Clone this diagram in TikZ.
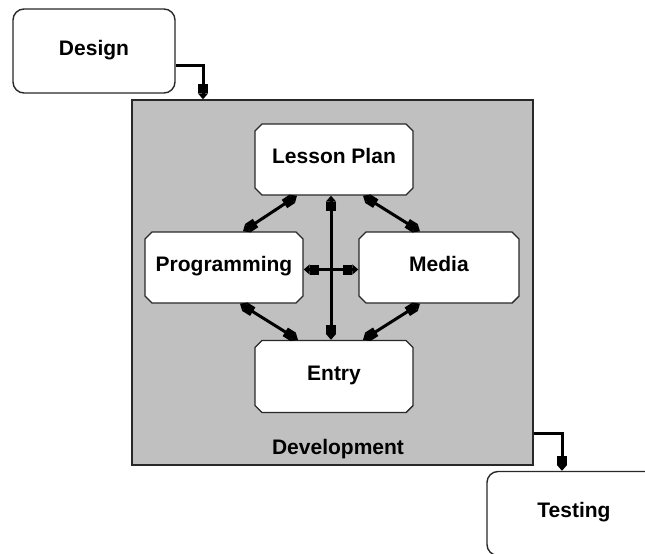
\documentclass[tikz,border=0pt]{standalone}
\usepackage{fontspec}
\setmainfont{Liberation Sans}
\usetikzlibrary{arrows.meta,shapes.misc}
\definecolor{devgray}{RGB}{192,192,192}
\definecolor{edge}{RGB}{40,40,40}
\tikzset{
  lbl/.style={font=\bfseries\fontsize{21}{24}\selectfont, text height=15pt, text depth=7pt, inner sep=0pt},
  roundbox/.style={lbl, draw=edge, line width=1.4pt, fill=white, rounded corners=11pt, minimum width=#1, minimum height=84pt},
  chambox/.style={lbl, chamfered rectangle, chamfered rectangle xsep=3.5pt, chamfered rectangle ysep=3.5pt, draw=edge, line width=1.4pt, fill=white, minimum width=#1, minimum height=71pt},
  devbox/.style={draw=edge, line width=1.4pt, fill=devgray, minimum width=401pt, minimum height=365pt, inner sep=0pt},
  mytip/.tip={Rectangle[length=9pt,width=10pt]Triangle[length=6pt,width=10pt]},
  conn/.style={line width=3pt, -{mytip}},
  link/.style={line width=3pt, {mytip}-{mytip}}
}
\begin{document}
\begin{tikzpicture}[x=1pt,y=-1pt]
\path[clip] (0,0) rectangle (645,554);
\fill[white] (0,0) rectangle (645,554);

\node[devbox] (dev) at (332.5,282.5) {};
\node[roundbox=162pt] (design) at (94,51) {Design};
\node[roundbox=174pt] (testing) at (574,513.5) {Testing};

\node[chambox=158pt] (lesson) at (334,159.5) {Lesson Plan};
\node[chambox=158pt] (prog) at (224,267.5) {Programming};
\node[chambox=160pt] (media) at (439,267.5) {Media};
\node[chambox=158pt, minimum height=72pt] (entry) at (334,376.5) {Entry};
\node[lbl] (devlabel) at (338,450) {Development};

\draw[conn] ([yshift=-14pt]design.east) -| ([xshift=-129.5pt]dev.north);
\draw[conn] ([yshift=-151pt]dev.east) -| ([xshift=-12pt]testing.north);

\draw[link] ([xshift=-37pt]lesson.south) -- ([xshift=19pt]prog.north);
\draw[link] ([xshift=29pt]lesson.south) -- ([xshift=-19pt]media.north);
\draw[link] ([xshift=-3pt]lesson.south) -- ([xshift=-3pt]entry.north);
\draw[link] ([yshift=-2pt]prog.east) -- ([yshift=-2pt]media.west);
\draw[link] ([xshift=16pt]prog.south) -- ([xshift=-36pt]entry.north);
\draw[link] ([xshift=-19pt]media.south) -- ([xshift=29pt]entry.north);
\end{tikzpicture}
\end{document}
